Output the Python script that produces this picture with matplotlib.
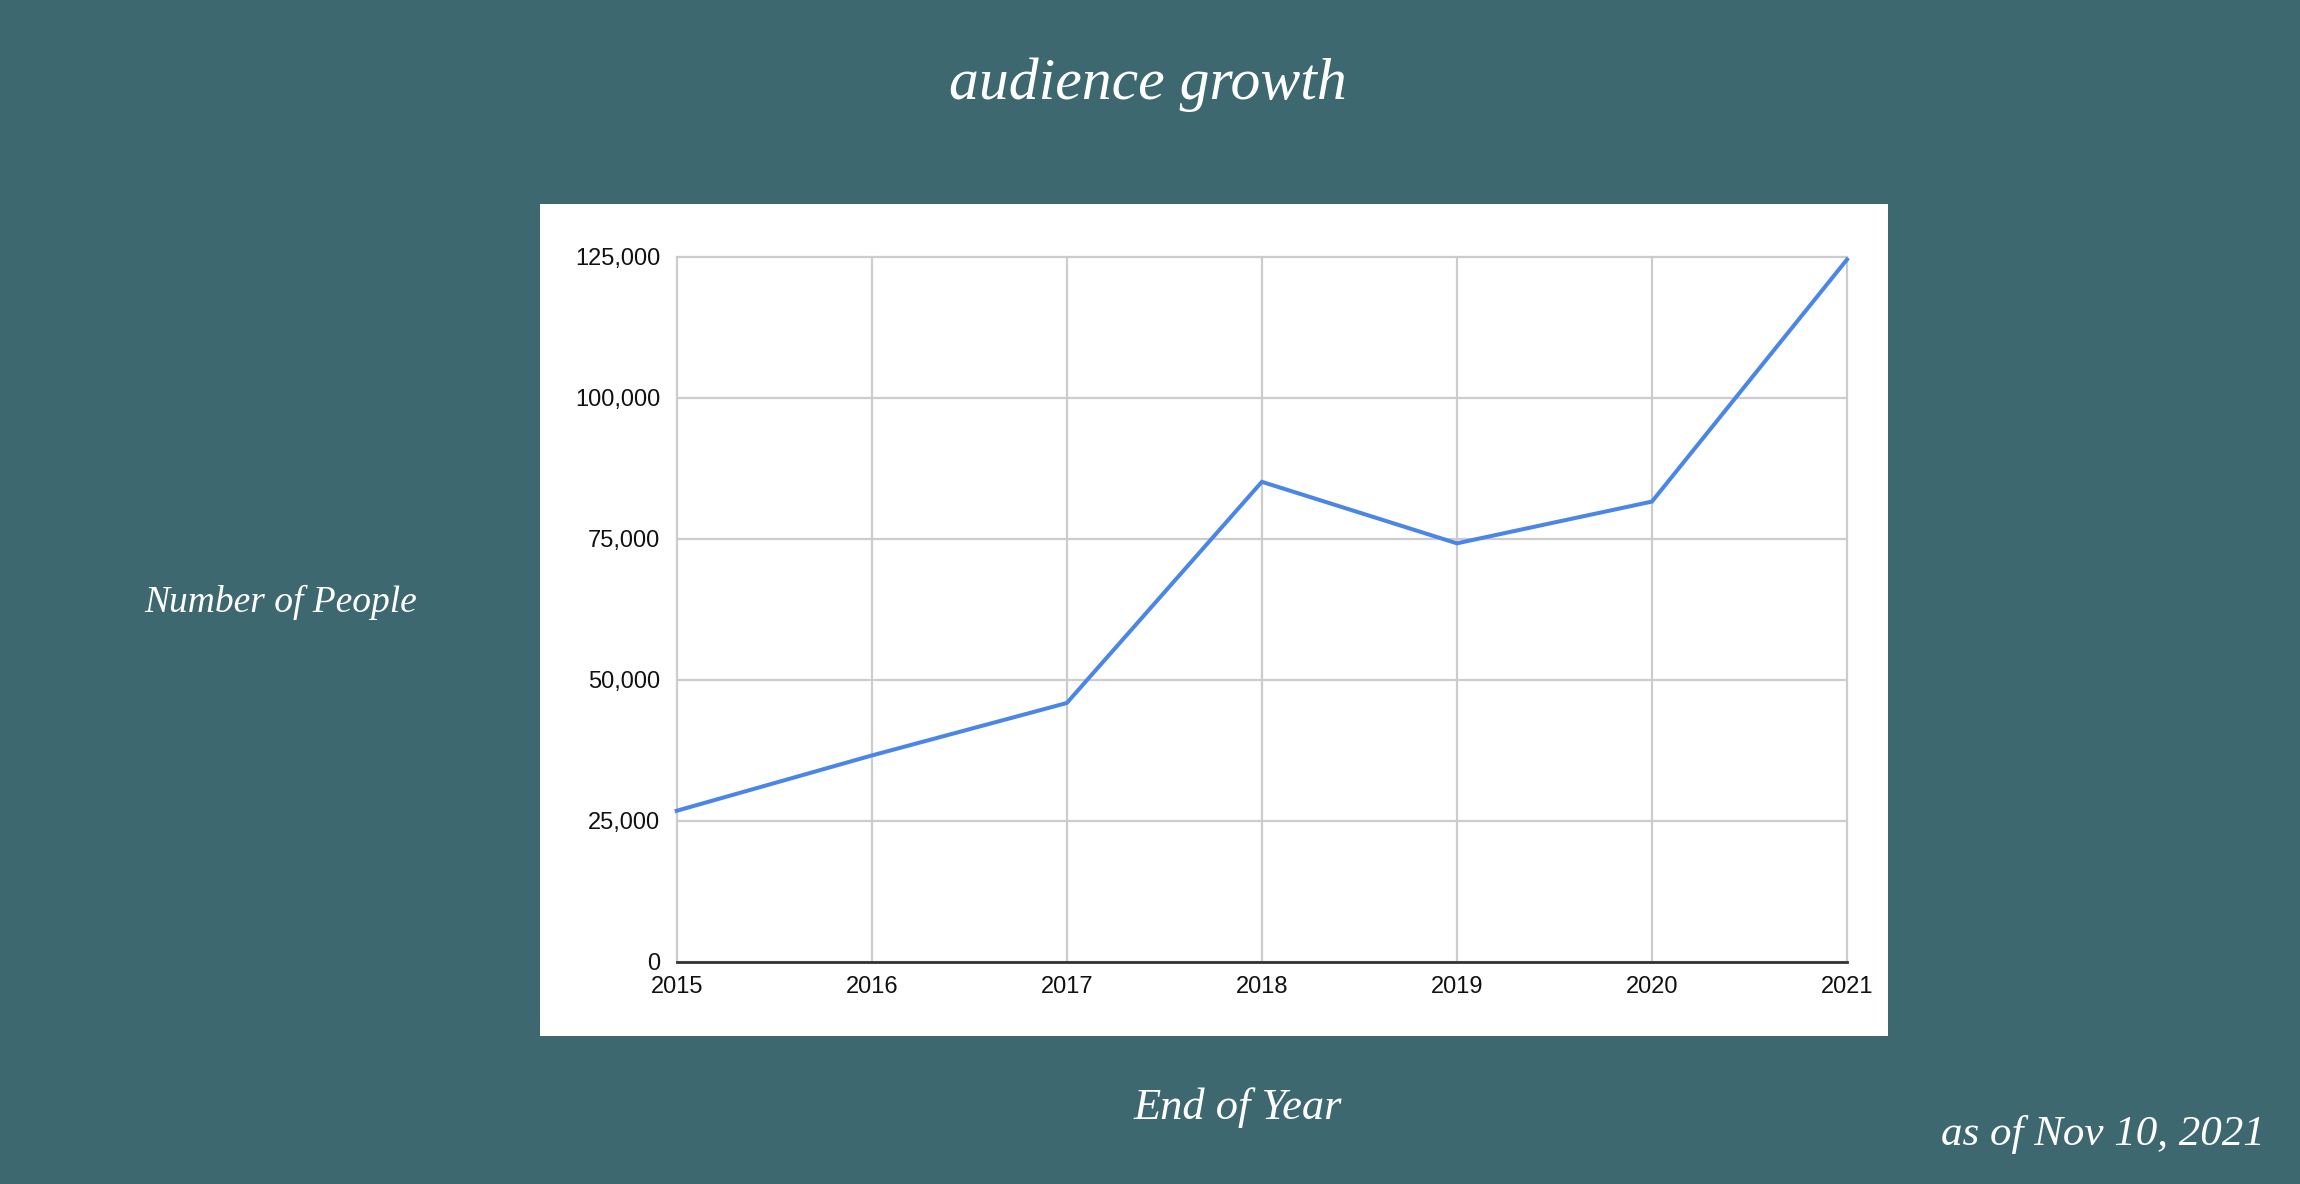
import matplotlib
matplotlib.use("Agg")
import matplotlib.pyplot as plt
from matplotlib.ticker import FuncFormatter

years = [2015, 2016, 2017, 2018, 2019, 2020, 2021]
people = [26800, 36600, 45900, 85100, 74200, 81600, 124500]
y_ticks = [0, 25000, 50000, 75000, 100000, 125000]

title = "audience growth"
x_label = "End of Year"
y_label = "Number of People"
note = "as of Nov 10, 2021"

BG = "#3d6870"
LINE = "#4a86e8"
GRID = "#cccccc"

W, H = 2300, 1184
fig = plt.figure(figsize=(W / 100, H / 100), dpi=100, facecolor=BG)

# white chart panel
panel = fig.add_axes([540 / W, 1 - 1036 / H, (1888 - 540) / W, (1036 - 204) / H], zorder=0)
panel.set_facecolor("white")
panel.set_xticks([])
panel.set_yticks([])
for s in panel.spines.values():
    s.set_visible(False)

ax = fig.add_axes([676.7 / W, 1 - 962 / H, (1847 - 676.7) / W, (962 - 256.7) / H], zorder=1)
ax.set_facecolor("white")
ax.plot(years, people, color=LINE, linewidth=2.9, solid_joinstyle="miter", zorder=3, clip_on=False)
ax.set_xlim(years[0], years[-1])
ax.set_ylim(0, 125000)
ax.set_xticks(years)
ax.set_yticks(y_ticks)
ax.yaxis.set_major_formatter(FuncFormatter(lambda v, p: f"{int(v):,}"))
ax.grid(True, color=GRID, linewidth=1.6)
for gl in ax.get_xgridlines() + ax.get_ygridlines():
    gl.set_clip_on(False)
ax.set_axisbelow(True)
for s in ["top", "right", "left"]:
    ax.spines[s].set_visible(False)
ax.spines["bottom"].set_color("#333333")
ax.spines["bottom"].set_linewidth(2.0)
ax.spines["bottom"].set_zorder(4)
ax.tick_params(axis="both", length=0, labelsize=17, colors="#111111")
ax.tick_params(axis="y", pad=12)
ax.tick_params(axis="x", pad=10)
for lab in ax.get_xticklabels() + ax.get_yticklabels():
    lab.set_fontfamily("Liberation Sans")

script = dict(family="Liberation Serif", style="italic", color="white")
fig.text(1148 / W, 1 - 85 / H, title, ha="center", va="center", fontsize=43, **script)
fig.text(281 / W, 1 - 602 / H, y_label, ha="center", va="center", fontsize=27, **script)
fig.text(1238 / W, 1 - 1108 / H, x_label, ha="center", va="center", fontsize=32, **script)
fig.text(2103 / W, 1 - 1135 / H, note, ha="center", va="center", fontsize=31, **script)

fig.savefig("out.png", dpi=100, facecolor=BG)
